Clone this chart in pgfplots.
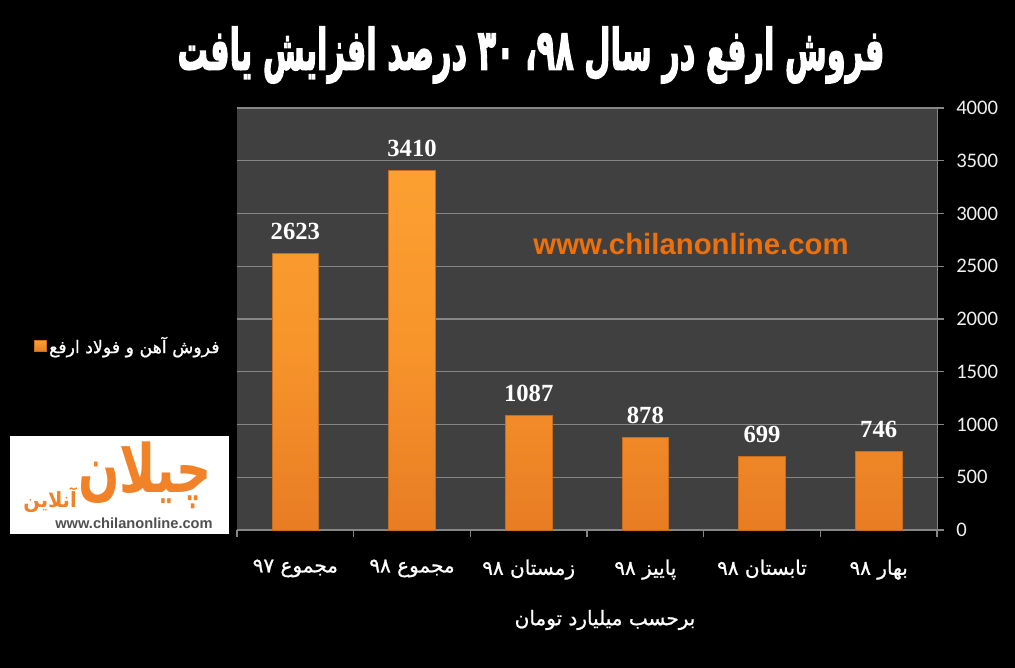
\documentclass[border=0pt]{standalone}
\usepackage{fontspec}
\usepackage{pgfplots}
\pgfplotsset{compat=1.18}
\setmainfont{Carlito}
\newfontfamily\fa[Script=Arabic]{DejaVu Sans}
\newfontfamily\fab[Script=Arabic,FakeBold=3]{DejaVu Sans Bold}
\newfontfamily\fasemi[Script=Arabic,FakeBold=1]{DejaVu Sans}
\newfontfamily\valfont{Liberation Serif}
\newfontfamily\urlfont{Liberation Sans}
\TeXXeTstate=1
\newcommand{\rtl}[1]{{\fasemi\beginR #1\endR}}

\definecolor{plotbg}{RGB}{64,64,64}
\definecolor{gridc}{RGB}{134,134,134}
\definecolor{barTop}{RGB}{252,160,50}
\definecolor{barMid}{RGB}{247,148,42}
\definecolor{barBot}{RGB}{232,124,36}
\definecolor{barEdge}{RGB}{200,108,30}
\definecolor{wm}{RGB}{236,112,12}
\definecolor{logoOr}{RGB}{242,130,40}

\begin{document}
\begin{tikzpicture}
% background, 1px = 0.75pt, y downwards
\begin{scope}[x=0.75pt,y=-0.75pt]
  \path[use as bounding box, fill=black] (0,0) rectangle (1015,668);
\end{scope}

\begin{axis}[
  at={(177.75pt,-397.5pt)}, anchor=south west,
  scale only axis, width=525pt, height=316.5pt,
  xmin=-0.5, xmax=5.5, ymin=0, ymax=4000,
  axis x line*=bottom, axis y line*=right,
  axis line style={draw=gridc},
  axis background/.style={fill=plotbg},
  ymajorgrids, grid style={gridc, line width=0.8pt},
  ytick={0,500,...,4000},
  /pgf/number format/assume math mode=true,
  /pgf/number format/1000 sep={},
  scaled y ticks=false,
  yticklabel style={text={rgb,255:red,240;green,240;blue,240}, font=\fontsize{15.5}{16}\selectfont, anchor=west, inner sep=0pt, xshift=9pt},
  tick align=outside, major tick length=5.25pt,
  tick style={gridc, line width=0.8pt},
  xtick={-0.5,0.5,...,5.5}, xticklabels={},
  extra x ticks={0,1,2,3,4,5},
  extra x tick labels={
    \rtl{مجموع \beginL۹۷\endL},
    \rtl{مجموع \beginL۹۸\endL},
    \rtl{زمستان \beginL۹۸\endL},
    \rtl{پاییز \beginL۹۸\endL},
    \rtl{تابستان \beginL۹۸\endL},
    \rtl{بهار \beginL۹۸\endL}},
  extra x tick style={major tick length=0pt, tick style={draw=none},
    xticklabel style={text=white, font=\fontsize{15}{17}\selectfont, anchor=north, inner sep=0pt, yshift=-22pt}},
  ybar, bar width=0.4,
  nodes near coords,
  nodes near coords style={text=white, font=\valfont\bfseries\fontsize{18.5}{19}\selectfont, inner sep=0pt, anchor=south, yshift=10pt},
  legend style={draw=none, fill=none, at={(axis description cs:-0.015,0.436)}, anchor=east,
    text=white, font=\fontsize{13}{15}\selectfont},
  legend image code/.code={\draw[draw=barEdge, top color=barTop, bottom color=barBot] (0pt,-4.2pt) rectangle (8.4pt,4.2pt);},
]
\addplot[draw=barEdge, line width=0.6pt, top color=barTop, bottom color=barBot, middle color=barMid] coordinates {
  (0,2623) (1,3410) (2,1087) (3,878) (4,699) (5,746)
};
\addlegendentry{\rtl{فروش آهن و فولاد ارفع}}
\end{axis}

\begin{scope}[x=0.75pt,y=-0.75pt]
  % title
  \node[text=white] at (531,55) {\resizebox{530pt}{32pt}{\fab\beginR فروش ارفع در سال \beginL۹۸\endL، \beginL۳۰\endL{} درصد افزایش یافت\endR}};
  % axis note
  \node[text=white, font=\fontsize{15}{17}\selectfont] at (605,620) {\rtl{برحسب میلیارد تومان}};
  % watermark
  \node[text=wm, font=\urlfont\bfseries\fontsize{22}{24}\selectfont] at (691,244) {www.chilanonline.com};
  % logo
  \fill[white] (10,436) rectangle (229,534);
  \node[text=logoOr] at (145,475) {\resizebox{100pt}{38pt}{\fa\bfseries\beginR چیلان\endR}};
  \node[text=logoOr] at (50,500) {\resizebox{40pt}{15pt}{\fa\bfseries\beginR آنلاین\endR}};
  \node[text={rgb,255:red,80;green,80;blue,80}] at (134,523) {\resizebox{118pt}{!}{\urlfont\bfseries www.chilanonline.com}};
\end{scope}
\end{tikzpicture}
\end{document}
